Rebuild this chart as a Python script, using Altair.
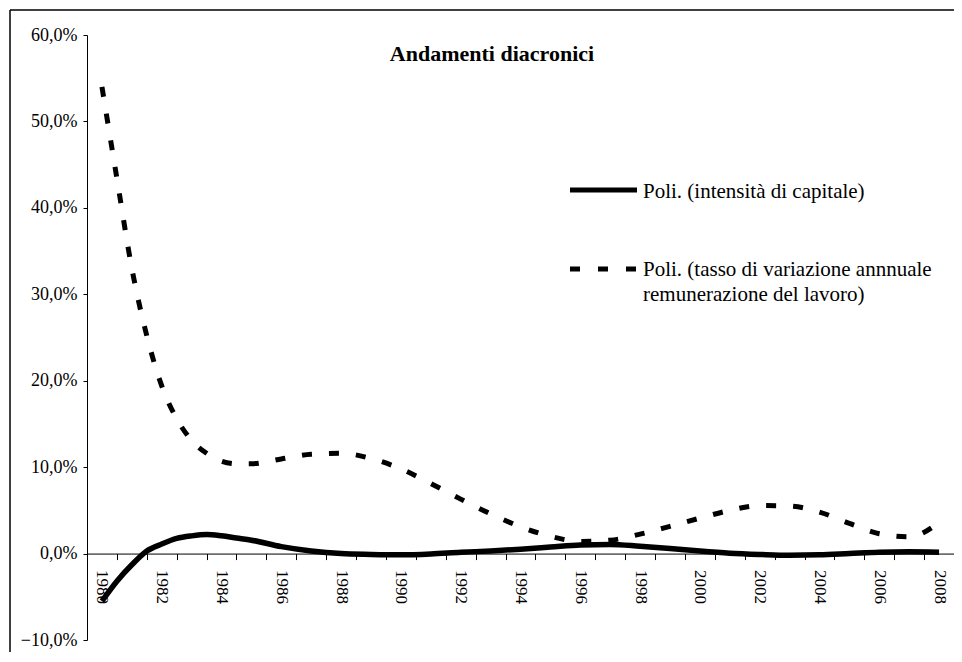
import altair as alt
import pandas as pd

# ---- data ----
years = [1980, 1980.5, 1981, 1981.5, 1982, 1982.5, 1983, 1983.5, 1984, 1984.5,
         1985, 1986, 1987, 1988, 1989, 1990, 1991, 1992, 1993, 1994, 1995, 1996,
         1997, 1998, 1999, 2000, 2001, 2002, 2003, 2004, 2005, 2006, 2007, 2008]
capitale = [-5.5, -3.2, -1.3, 0.3, 1.1, 1.75, 2.05, 2.2, 2.05, 1.8,
            1.55, 0.8, 0.3, 0.0, -0.1, -0.15, -0.05, 0.15, 0.3, 0.5, 0.75, 1.0,
            1.05, 0.85, 0.6, 0.3, 0.05, -0.1, -0.2, -0.15, 0.0, 0.15, 0.2, 0.15]
lavoro = [54.0, 43.4, 33.0, 25.2, 19.4, 15.6, 13.1, 11.6, 10.7, 10.4,
          10.4, 10.95, 11.5, 11.6, 11.0, 9.8, 8.1, 6.3, 4.6, 3.1, 2.0, 1.4,
          1.55, 2.25, 3.15, 4.1, 5.0, 5.55, 5.5, 4.8, 3.5, 2.3, 1.95, 3.6]

year_labels = list(range(1980, 2009, 2))
year_bounds = [1979.5 + i for i in range(30)]
y_ticks = [-10, 0, 10, 20, 30, 40, 50, 60]

title_text = "Andamenti diacronici"
legend_solid = "Poli. (intensità di capitale)"
legend_dash_1 = "Poli. (tasso di variazione annnuale"
legend_dash_2 = "remunerazione del lavoro)"

# ---- layout ----
W, H = 867, 605
PAD = {"left": 79, "top": 27, "right": 0, "bottom": 12}
Y_MIN, Y_MAX = -10, 60
X_AXIS_OFFSET = -H * (0 - Y_MIN) / (Y_MAX - Y_MIN)
FONT = "Liberation Serif"

df = pd.DataFrame({"anno": years, "capitale": capitale, "lavoro": lavoro})
one = pd.DataFrame({"k": [0]})

xscale = alt.Scale(domain=[1979.5, 2008.5], nice=False, zero=False)
yscale = alt.Scale(domain=[Y_MIN, Y_MAX], nice=False)

yaxis = alt.Axis(values=y_ticks, grid=False, title=None, tickSize=4, labelPadding=6,
                 labelExpr="replace(format(datum.value, '.1f'), '.', ',') + '%'",
                 labelFontSize=18, labelFont=FONT, labelColor="black",
                 domainColor="black", tickColor="black")

axis_ticks = alt.Axis(values=year_bounds, labels=False, ticks=True, tickSize=6,
                      domain=True, grid=False, title=None, orient="bottom",
                      offset=X_AXIS_OFFSET, domainColor="black", tickColor="black")
axis_labels = alt.Axis(values=year_labels, labels=True, ticks=False, tickSize=0,
                       domain=False, grid=False, title=None, orient="bottom",
                       offset=X_AXIS_OFFSET, labelAngle=90, labelAlign="left",
                       labelBaseline="middle", labelPadding=16, labelFontSize=17,
                       labelFont=FONT, labelColor="black", format="d",
                       labelOverlap=False)

# chart frame (left and top edges visible in the reference)
frame_left = alt.Chart(one).mark_rule(color="black", strokeWidth=1.5, clip=False).encode(
    x=alt.value(-77), y=alt.value(-25), y2=alt.value(H + PAD["bottom"]))
frame_top = alt.Chart(one).mark_rule(color="black", strokeWidth=1.5, clip=False).encode(
    x=alt.value(-77), x2=alt.value(W + PAD["right"]), y=alt.value(-25))

solid = alt.Chart(df).mark_line(color="black", strokeWidth=5.5,
                                interpolate="monotone").encode(
    x=alt.X("anno:Q", scale=xscale, axis=axis_ticks),
    y=alt.Y("capitale:Q", scale=yscale, axis=yaxis))

dashed = alt.Chart(df).mark_line(color="black", strokeWidth=5, strokeDash=[10, 17],
                                 strokeCap="butt", interpolate="monotone").encode(
    x=alt.X("anno:Q", scale=xscale, axis=axis_labels),
    y=alt.Y("lavoro:Q", scale=yscale, axis=yaxis))

leg_solid = alt.Chart(one).mark_rule(color="black", strokeWidth=5).encode(
    x=alt.value(483), x2=alt.value(550), y=alt.value(155))
leg_dash = alt.Chart(one).mark_rule(color="black", strokeWidth=5, strokeDash=[10, 18],
                                    strokeCap="butt").encode(
    x=alt.value(483), x2=alt.value(550), y=alt.value(234))


def txt(s, x, y, size, weight="normal", align="left"):
    return alt.Chart(pd.DataFrame({"t": [s]})).mark_text(
        font=FONT, fontSize=size, fontWeight=weight, align=align,
        baseline="alphabetic", color="black").encode(
        text="t:N", x=alt.value(x), y=alt.value(y))


texts = [
    txt(title_text, 405, 26, 22, "bold", "center"),
    txt(legend_solid, 556, 163, 21),
    txt(legend_dash_1, 556, 241, 21),
    txt(legend_dash_2, 556, 266, 21),
]

chart = alt.layer(frame_left, frame_top, solid, dashed, leg_solid, leg_dash,
                  *texts).resolve_axis(x="independent").properties(
    width=W, height=H,
    autosize=alt.AutoSizeParams(type="none"),
    padding=PAD,
).configure(font=FONT, background="white").configure_view(
    strokeWidth=0, stroke="transparent")

chart.save("out.html", embed_options={"renderer": "svg", "actions": False})
